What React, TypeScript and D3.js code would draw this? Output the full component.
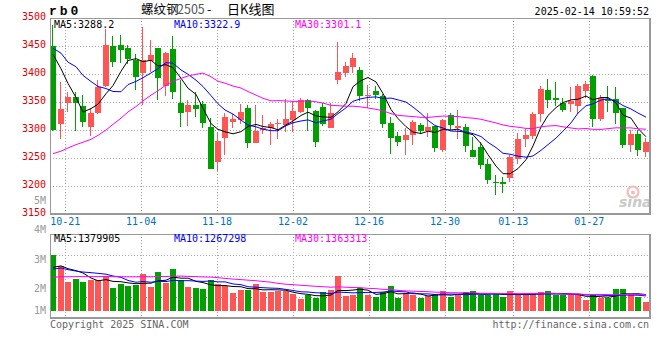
import React from 'react';
import * as d3 from 'd3';

// ---- data (80 daily candles) ----
const opens = [3450,3311,3349,3359,3343,3306,3330,3379,3450,3452,3447,3425,3402,3424,3446,3379,3445,3349,3333,3345,
  3347,3306,3243,3285,3315,3318,3339,3277,3300,3304,3311,3309,3317,3333,3354,3334,3341,3304,3389,3402,
  3413,3407,3360,3370,3361,3313,3290,3282,3291,3309,3299,3307,3264,3327,3303,3305,3264,3270,3239,3208,
  3207,3214,3249,3284,3290,3329,3371,3357,3349,3346,3342,3370,3397,3320,3356,3355,3339,3273,3293,3260];
const highs = [3487,3386,3367,3367,3362,3339,3389,3481,3468,3470,3452,3436,3484,3460,3447,3440,3467,3389,3354,3368,
  3352,3321,3297,3330,3329,3347,3345,3345,3327,3315,3319,3355,3351,3358,3355,3335,3349,3348,3458,3422,
  3438,3412,3380,3378,3364,3323,3296,3303,3317,3313,3330,3307,3320,3330,3336,3311,3288,3279,3249,3220,
  3216,3256,3294,3302,3332,3379,3391,3385,3357,3377,3383,3388,3399,3362,3379,3376,3340,3300,3300,3286];
const lows = [3298,3284,3333,3299,3306,3289,3328,3377,3412,3420,3417,3372,3344,3404,3354,3361,3356,3306,3308,3324,
  3304,3231,3226,3255,3303,3310,3268,3277,3293,3273,3284,3297,3297,3330,3298,3269,3308,3303,3383,3395,
  3402,3352,3340,3356,3304,3258,3272,3256,3273,3292,3288,3261,3261,3300,3284,3260,3251,3230,3204,3184,
  3188,3208,3240,3270,3284,3315,3340,3343,3332,3333,3329,3357,3306,3316,3332,3311,3268,3261,3254,3252];
const closes = [3300,3337,3359,3349,3315,3331,3377,3452,3422,3442,3427,3394,3425,3434,3392,3438,3367,3331,3345,3337,
  3313,3231,3280,3323,3319,3332,3277,3299,3304,3310,3312,3320,3334,3354,3339,3279,3311,3330,3403,3414,
  3429,3360,3363,3363,3311,3286,3279,3291,3314,3299,3306,3268,3318,3309,3307,3272,3252,3238,3211,3205,
  3204,3251,3284,3291,3328,3373,3354,3354,3336,3352,3379,3382,3320,3357,3352,3331,3273,3293,3264,3279];
const volumes = [4700000,3770000,2450000,2670000,2450000,2590000,2590000,2930000,1940000,2310000,
  2110000,2220000,3090000,2030000,3290000,2360000,3540000,2640000,2030000,1940000,
  1830000,2590000,2310000,2080000,1520000,1740000,1800000,2250000,1600000,1600000,
  1660000,1660000,1410000,980000,1320000,1100000,1600000,1740000,2930000,1240000,
  1320000,1970000,1320000,1150000,1580000,2080000,1100000,1460000,1380000,1100000,
  1290000,1460000,1660000,1180000,1460000,1580000,1660000,1320000,1320000,1490000,
  1150000,1660000,1320000,1320000,1490000,1580000,1660000,1320000,1320000,1320000,
  1320000,930000,1320000,1130000,1130000,1830000,1830000,1320000,1180000,760000];
// history before the first visible candle (only feeds the moving averages)
const priorCloses = [3200,3190,3170,3185,3175,3165,3165,3120,3110,3095,3105,3120,3130,3150,3140,3160,3180,3210,3252,
  3248,3425,3520,3430,3470,3440,3465,3490,3475,3445];
const priorVolumes = [2300000,2500000,2200000,2600000,2400000,2700000,2300000,2500000,2600000,2400000,
  2200000,2500000,2700000,2300000,2600000,2500000,2400000,2800000,2600000,2700000,
  2900000,3800000,3900000,3250000,3100000,3200000,3600000,3500000,3450000];

const priceTicks = [3500,3450,3400,3350,3300,3250,3200,3150];
const dateTickIndex = [2,12,22,32,42,52,61,71];
const dateTickLabels = ['10-21','11-04','11-18','12-02','12-16','12-30','01-13','01-27'];
const volTickValues = [5,4,3,2,1];
const volTickLabels = ['5M','4M','3M','2M','1M'];
const maPeriods = [5,10,30];
const maColors = ['#000000','#0000ff','#ff00ff'];
const priceLegend = ['MA5:3288.2','MA10:3322.9','MA30:3301.1'];
const volLegend = ['MA5:1379905','MA10:1267298','MA30:1363313'];
const titleParts = ['螺纹钢','2505','-','日K线图'];
const symbol = 'rb0';
const stamp = '2025-02-14 10:59:52';

// ---- layout ----
const W = 660, H = 360;
const L = 50, R = 650;
const PT = 18, PB = 214;
const VT = 234, VB = 318, V0 = 311;
const RED = '#ff5555', GREEN = '#00a000';
const MONO = '"DejaVu Sans Mono", monospace';
const CJK = '"Noto Sans CJK SC", sans-serif';
const legendX = [54, 174, 295];
const titleX = [141, 177, 207, 227];

export default function App() {
  const n = closes.length;
  const x = d3.scaleLinear().domain([0, n]).range([L, R]);
  const gx = d3.scaleLinear().domain([0, n - 1]).range([L, R]);
  const step = x(1) - x(0);
  const bw = Math.round(step * 0.8);
  const y = d3.scaleLinear().domain([3150, 3500]).range([PB, PT]);
  const yv = d3.scaleLinear().domain([0, 6.5e6]).range([V0, VT]);
  const volLabelY = d3.scaleLinear().domain([5, 2]).range([204, 292]);

  const off = priorCloses.length;
  const allC = priorCloses.concat(closes);
  const allV = priorVolumes.concat(volumes);
  const mov = (arr: number[], p: number) =>
    closes.map((_, i) => d3.mean(arr.slice(i + off - p + 1, i + off + 1)) as number);

  const cx = (i: number) => Math.round(x(i));
  const priceLine = d3.line<number>().x((_, i) => cx(i) + bw / 2).y((d) => y(d));
  const volLine = d3.line<number>().x((_, i) => cx(i) + bw / 2).y((d) => yv(d));

  const hGrid = priceTicks.filter((t) => t < 3500 && t > 3150);
  const vGridY = [1, 2, 3].map((k) => VT + ((VB - VT) * k) / 4);

  return (
    <svg width={W} height={H} style={{ position: 'absolute', left: 0, top: 0, background: '#fff' }}
      fontFamily={MONO}>
      <defs>
        <clipPath id="pclip"><rect x={L} y={PT} width={R - L} height={PB - PT} /></clipPath>
        <clipPath id="vclip"><rect x={L} y={VT} width={R - L} height={VB - VT} /></clipPath>
      </defs>
      <rect x={0} y={0} width={W} height={H} fill="#fff" />

      {/* header */}
      <text x={49} y={14.5} fontFamily='"Liberation Mono", monospace' fontWeight="bold" fontSize={13}
        letterSpacing={3} fill="#000">{symbol}</text>
      <text y={14} fontFamily={CJK} fontSize={12.5} fill="#000">
        <tspan x={titleX[0]}>{titleParts[0]}</tspan>
        <tspan x={titleX[1]} fill="#555">{titleParts[1]}</tspan>
        <tspan x={titleX[2]}>{titleParts[2]}</tspan>
        <tspan x={titleX[3]} fontSize={13}>{titleParts[3]}</tspan>
      </text>
      <text x={649} y={15} textAnchor="end" fontSize={10} fill="#000">{stamp}</text>

      {/* grids */}
      {hGrid.map((t) => (
        <line key={'h' + t} x1={L} x2={R} y1={Math.round(y(t)) + 0.5} y2={Math.round(y(t)) + 0.5}
          stroke="#a8a8a8" strokeDasharray="1,2" />
      ))}
      {dateTickIndex.map((idx) => (
        <g key={'v' + idx}>
          <line x1={Math.round(gx(idx)) + 0.5} x2={Math.round(gx(idx)) + 0.5} y1={PT} y2={PB}
            stroke="#a8a8a8" strokeDasharray="1,2" />
          <line x1={Math.round(gx(idx)) + 0.5} x2={Math.round(gx(idx)) + 0.5} y1={VT} y2={VB}
            stroke="#a8a8a8" strokeDasharray="1,2" />
        </g>
      ))}
      {vGridY.map((gy, k) => (
        <line key={'vg' + k} x1={L} x2={R} y1={Math.round(gy) + 0.5} y2={Math.round(gy) + 0.5}
          stroke="#a8a8a8" strokeDasharray="1,2" />
      ))}

      {/* watermark */}
      <g opacity={0.9}>
        <circle cx={633} cy={192} r={5.5} fill="none" stroke="#f3b4b4" strokeWidth={2.2} />
        <circle cx={633} cy={192.5} r={2} fill="#f3b4b4" />
        <text x={619} y={207} fontFamily='"DejaVu Sans", sans-serif' fontStyle="italic" fontWeight="bold"
          fontSize={14} fill="#c4c4c4">sina</text>
      </g>

      {/* candles */}
      <g clipPath="url(#pclip)" shapeRendering="crispEdges">
        {closes.map((c, i) => {
          const o = opens[i];
          const col = c >= o ? RED : GREEN;
          const top = Math.round(y(Math.max(o, c)));
          const bot = Math.round(y(Math.min(o, c)));
          const X = cx(i);
          return (
            <g key={'c' + i}>
              <line x1={X + 2.5} x2={X + 2.5} y1={y(highs[i])} y2={y(lows[i])} stroke={col} />
              <rect x={X} y={top} width={bw} height={Math.max(1, bot - top)} fill={col} />
            </g>
          );
        })}
      </g>
      <g clipPath="url(#pclip)" fill="none">
        {maPeriods.map((p, k) => (
          <path key={'ma' + p} d={priceLine(mov(allC, p)) || ''} stroke={maColors[k]} strokeWidth={1} />
        ))}
      </g>

      {/* volume */}
      <g clipPath="url(#vclip)" shapeRendering="crispEdges">
        {volumes.map((v, i) => (
          <rect key={'vb' + i} x={cx(i)} y={Math.round(yv(v))} width={bw} height={V0 - Math.round(yv(v))}
            fill={closes[i] >= opens[i] ? RED : GREEN} />
        ))}
      </g>
      <g clipPath="url(#vclip)" fill="none">
        {maPeriods.map((p, k) => (
          <path key={'vma' + p} d={volLine(mov(allV, p)) || ''} stroke={maColors[k]} strokeWidth={1} />
        ))}
      </g>

      {/* frames */}
      <g fill="none" stroke="#999" shapeRendering="crispEdges">
        <rect x={L + 0.5} y={PT + 0.5} width={R - L - 1} height={PB - PT - 1} />
        <line x1={R} x2={R} y1={PT} y2={PB + 1} strokeWidth={2} />
        <line x1={L} x2={R} y1={PB} y2={PB} strokeWidth={2} />
        <rect x={L + 0.5} y={VT + 0.5} width={R - L - 1} height={VB - VT - 1} />
        <line x1={R} x2={R} y1={VT} y2={VB + 1} strokeWidth={2} />
        <line x1={L} x2={R} y1={VB} y2={VB} strokeWidth={2} />
      </g>

      {/* legends */}
      {priceLegend.map((t, k) => (
        <text key={'pl' + k} x={legendX[k]} y={27.5} fontSize={10} fill={maColors[k]}>{t}</text>
      ))}
      {volLegend.map((t, k) => (
        <text key={'vl' + k} x={legendX[k]} y={242} fontSize={10} fill={maColors[k]}>{t}</text>
      ))}

      {/* axes labels */}
      {priceTicks.map((t) => (
        <text key={'pt' + t} x={46} y={y(t) + 2} textAnchor="end" fontSize={10} fill="#e00000">{t}</text>
      ))}
      {volTickValues.map((v, k) => (
        <text key={'vt' + v} x={46} y={Math.min(volLabelY(v), 314)} textAnchor="end" fontSize={10}
          fill="#999">{volTickLabels[k]}</text>
      ))}
      {dateTickIndex.map((idx, k) => (
        <text key={'dt' + idx} x={gx(idx)} y={225} textAnchor="middle" fontSize={10} fill="#0070c0">
          {dateTickLabels[k]}</text>
      ))}

      <text x={50} y={327.5} fontSize={10} fill="#666">Copyright 2025 SINA.COM</text>
      <text x={649} y={327.5} textAnchor="end" fontSize={10} fill="#666">http://finance.sina.com.cn</text>
    </svg>
  );
}
